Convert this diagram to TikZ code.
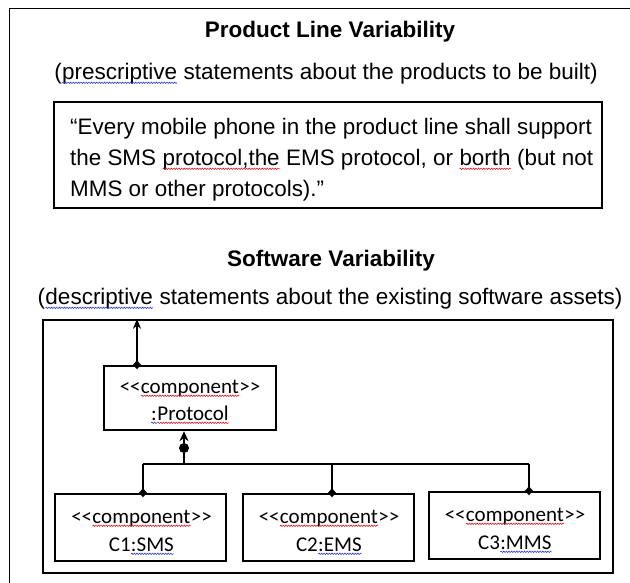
\documentclass[tikz,border=0pt]{standalone}
\usepackage{fontspec}
\setmainfont{Liberation Sans}
\newfontfamily\calibrifam{Carlito}
\usetikzlibrary{arrows.meta,decorations.pathmorphing}

\definecolor{spred}{RGB}{230,30,40}
\definecolor{spblue}{RGB}{50,60,210}

% plain word box inside a node: clear every option the enclosing node passes on
\tikzset{wordbox/.style={shape=rectangle,draw=none,fill=none,inner sep=0pt,outer sep=0pt,
  minimum width=0pt,minimum height=0pt,text width={},align=none,anchor=base}}
% word with a wavy proofing underline
\newcommand\spell[2]{\tikz[baseline=(sw.base)]{\node[wordbox](sw){#2};\draw[#1,line width=0.6pt,decorate,decoration={snake,amplitude=0.7pt,segment length=2.6pt}]([yshift=-2.8pt]sw.base west)--([yshift=-2.8pt]sw.base east);}}

\newcommand\bodyfont{\fontsize{22.5}{31}\selectfont}
\newcommand\quotefont{\fontsize{22.4}{31}\selectfont}
\newcommand\compfont{\calibrifam\fontsize{21}{26}\selectfont}

\begin{document}
\begin{tikzpicture}[x=1pt,y=-1pt,
  heading/.style={anchor=base,inner sep=0pt,font=\bodyfont\bfseries},
  plain/.style={anchor=base,inner sep=0pt,font=\bodyfont},
  qline/.style={anchor=base west,inner sep=0pt,font=\quotefont},
  comp/.style={draw,line width=2.4pt,minimum width=171pt,minimum height=67pt,inner sep=0pt},
  ctext/.style={anchor=base,inner sep=0pt,font=\compfont},
  link/.style={line width=1.3pt},
]
\path[use as bounding box] (0,0) rectangle (630,583);
\clip (0,0) rectangle (630,583);

% outer frame, running past the right and bottom edges
\draw[line width=1.6pt] (9.5,8.5) rectangle (680,640);

% product line part
\node[heading] (plv) at (330,38) {Product Line Variability};
\node[plain] (plsub) at (326,80) {(\spell{spblue}{prescriptive} statements about the products to be built)};
\node[draw,line width=2pt,minimum width=548pt,minimum height=106pt,inner sep=0pt] (quote) at (328,155) {};
\node[qline] (q1) at (70,135) {“Every mobile phone in the product line shall support};
\node[qline] (q2) at (70,166) {the SMS \spell{spred}{protocol,the} EMS protocol, or \spell{spred}{borth} (but not};
\node[qline] (q3) at (70,197) {MMS or other protocols).”};

% software part
\node[heading] (swv) at (331,266) {Software Variability};
\node[plain] (swsub) at (330,305) {(\spell{spblue}{descriptive} statements about the existing software assets)};
\node[draw,line width=2.4pt,minimum width=570pt,minimum height=253pt,inner sep=0pt] (soft) at (328,446.5) {};

% components
\node[comp,minimum width=172pt,minimum height=64pt] (proto) at (190,398) {};
\node[ctext] (prA) at (190,393) {<<\spell{spred}{component}>>};
\node[ctext] (prB) at (190,420) {\spell{spblue}{:}\spell{spred}{Protocol}};

\node[comp] (c1) at (140.5,527.5) {};
\node[ctext] (c1A) at (141.5,523) {<<\spell{spred}{component}>>};
\node[ctext] (c1B) at (141.5,551) {C1\spell{spblue}{:SMS}};

\node[comp] (c2) at (328.5,527.5) {};
\node[ctext] (c2A) at (329,523) {<<\spell{spred}{component}>>};
\node[ctext] (c2B) at (329,551) {C2\spell{spblue}{:EMS}};

\node[comp] (c3) at (514.5,525.5) {};
\node[ctext] (c3A) at (515,521) {<<\spell{spred}{component}>>};
\node[ctext] (c3B) at (515,549) {C3\spell{spblue}{:MMS}};

% connectors
\coordinate (tap) at (137,0);
\draw[link,{Diamond[length=9pt,width=8pt]}-{Stealth[length=10pt,width=8pt]},shorten <=-4.5pt]
  (proto.north -| tap) -- (soft.north -| tap);

\node[circle,fill=black,minimum size=10pt,inner sep=0pt] (joint) at (184,448) {};
\draw[link,-{Stealth[length=10pt,width=9pt]}] (joint) -- (proto.south -| joint);

\coordinate (bus) at (184,464);
\coordinate (d1) at (143,464);
\coordinate (d2) at (332,464);
\coordinate (d3) at (529,464);
\draw[link] (joint) -- (bus);
\draw[link] (d1) -- (d3);
\draw[link,-{Diamond[length=9pt,width=8pt]},shorten >=-4.5pt] (d1) -- (d1 |- c1.north);
\draw[link,-{Diamond[length=9pt,width=8pt]},shorten >=-4.5pt] (d2) -- (d2 |- c2.north);
\draw[link,-{Diamond[length=9pt,width=8pt]},shorten >=-4.5pt] (d3) -- (d3 |- c3.north);
\end{tikzpicture}
\end{document}
